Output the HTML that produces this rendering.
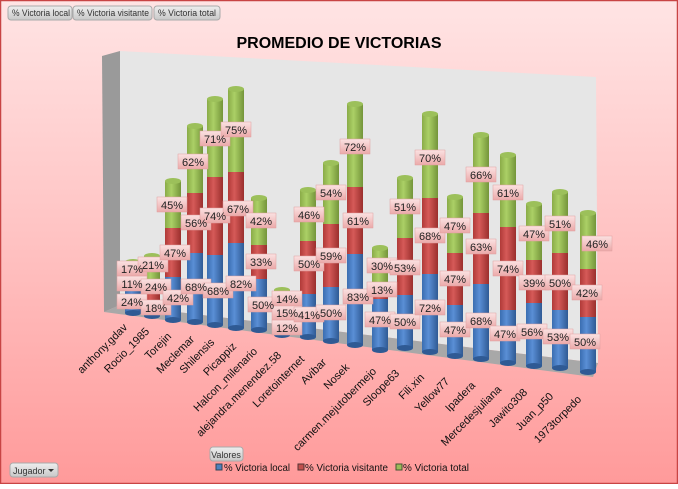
<!DOCTYPE html>
<html><head><meta charset="utf-8"><style>
html,body{margin:0;padding:0}
body{width:678px;height:484px;overflow:hidden;font-family:"Liberation Sans",sans-serif}
</style></head><body>
<svg width="678" height="484" viewBox="0 0 678 484" xmlns="http://www.w3.org/2000/svg" font-family="Liberation Sans, sans-serif">
<defs>
<linearGradient id="bg" x1="0" y1="0" x2="0" y2="1"><stop offset="0" stop-color="#ffe4e4"/><stop offset="0.5" stop-color="#ffc2c2"/><stop offset="1" stop-color="#ff9a9a"/></linearGradient>
<linearGradient id="bl" x1="0" x2="1"><stop offset="0" stop-color="#3a6db0"/><stop offset="0.4" stop-color="#5a8fd6"/><stop offset="1" stop-color="#2f5a94"/></linearGradient>
<linearGradient id="rd" x1="0" x2="1"><stop offset="0" stop-color="#b03a38"/><stop offset="0.4" stop-color="#d65a58"/><stop offset="1" stop-color="#9a2f2d"/></linearGradient>
<linearGradient id="gr" x1="0" x2="1"><stop offset="0" stop-color="#8aab48"/><stop offset="0.4" stop-color="#abd066"/><stop offset="1" stop-color="#74953a"/></linearGradient>
<linearGradient id="lb" x1="0" y1="0" x2="0" y2="1"><stop offset="0" stop-color="#fbe2e2"/><stop offset="1" stop-color="#eba9a9"/></linearGradient>
<linearGradient id="btn" x1="0" y1="0" x2="0" y2="1"><stop offset="0" stop-color="#eeeeee"/><stop offset="1" stop-color="#c8c8c8"/></linearGradient>
</defs>
<rect x="0" y="0" width="678" height="484" fill="url(#bg)"/>
<rect x="0.5" y="0.5" width="677" height="483" fill="none" stroke="#c84444" stroke-width="1.5"/>
<g font-size="9" fill="#333">
<rect x="8" y="6" width="64" height="14" rx="3" fill="url(#btn)" stroke="#aaa"/><text x="12" y="16" textLength="58" lengthAdjust="spacingAndGlyphs">% Victoria local</text>
<rect x="73" y="6" width="79" height="14" rx="3" fill="url(#btn)" stroke="#aaa"/><text x="77" y="16" textLength="72" lengthAdjust="spacingAndGlyphs">% Victoria visitante</text>
<rect x="154" y="6" width="66" height="14" rx="3" fill="url(#btn)" stroke="#aaa"/><text x="158" y="16" textLength="58" lengthAdjust="spacingAndGlyphs">% Victoria total</text>
</g>
<text x="339" y="48" font-size="16" font-weight="bold" text-anchor="middle" fill="#000">PROMEDIO DE VICTORIAS</text>
<polygon points="102,56 120,51 120,305 104,312" fill="#9a9a9a"/>
<polygon points="120,51 596,77 598,363 120,305" fill="#e6e6e6"/>
<polygon points="120,305 598,363 593,377 104,312" fill="#a8a8a8"/>
<g id="bars">
<rect x="125" y="290" width="16" height="23" fill="url(#bl)"/><rect x="125" y="275" width="16" height="15" fill="url(#rd)"/><rect x="125" y="262" width="16" height="13" fill="url(#gr)"/><ellipse cx="133" cy="262" rx="8" ry="3" fill="#9cc05a"/><ellipse cx="133" cy="313" rx="8" ry="3" fill="#2f5a94"/>
<rect x="144" y="300" width="16" height="16" fill="url(#bl)"/><rect x="144" y="285" width="16" height="15" fill="url(#rd)"/><rect x="144" y="256" width="16" height="29" fill="url(#gr)"/><ellipse cx="152" cy="256" rx="8" ry="3" fill="#9cc05a"/><ellipse cx="152" cy="316" rx="8" ry="3" fill="#2f5a94"/>
<rect x="165" y="277" width="16" height="43" fill="url(#bl)"/><rect x="165" y="228" width="16" height="49" fill="url(#rd)"/><rect x="165" y="181" width="16" height="47" fill="url(#gr)"/><ellipse cx="173" cy="181" rx="8" ry="3" fill="#9cc05a"/><ellipse cx="173" cy="320" rx="8" ry="3" fill="#2f5a94"/>
<rect x="187" y="253" width="16" height="69" fill="url(#bl)"/><rect x="187" y="193" width="16" height="60" fill="url(#rd)"/><rect x="187" y="126" width="16" height="67" fill="url(#gr)"/><ellipse cx="195" cy="126" rx="8" ry="3" fill="#9cc05a"/><ellipse cx="195" cy="322" rx="8" ry="3" fill="#2f5a94"/>
<rect x="207" y="255" width="16" height="70" fill="url(#bl)"/><rect x="207" y="177" width="16" height="78" fill="url(#rd)"/><rect x="207" y="99" width="16" height="78" fill="url(#gr)"/><ellipse cx="215" cy="99" rx="8" ry="3" fill="#9cc05a"/><ellipse cx="215" cy="325" rx="8" ry="3" fill="#2f5a94"/>
<rect x="228" y="243" width="16" height="85" fill="url(#bl)"/><rect x="228" y="172" width="16" height="71" fill="url(#rd)"/><rect x="228" y="89" width="16" height="83" fill="url(#gr)"/><ellipse cx="236" cy="89" rx="8" ry="3" fill="#9cc05a"/><ellipse cx="236" cy="328" rx="8" ry="3" fill="#2f5a94"/>
<rect x="251" y="279" width="16" height="51" fill="url(#bl)"/><rect x="251" y="245" width="16" height="34" fill="url(#rd)"/><rect x="251" y="198" width="16" height="47" fill="url(#gr)"/><ellipse cx="259" cy="198" rx="8" ry="3" fill="#9cc05a"/><ellipse cx="259" cy="330" rx="8" ry="3" fill="#2f5a94"/>
<rect x="274" y="318" width="16" height="17" fill="url(#bl)"/><rect x="274" y="306" width="16" height="12" fill="url(#rd)"/><rect x="274" y="290" width="16" height="16" fill="url(#gr)"/><ellipse cx="282" cy="290" rx="8" ry="3" fill="#9cc05a"/><ellipse cx="282" cy="335" rx="8" ry="3" fill="#2f5a94"/>
<rect x="300" y="294" width="16" height="43" fill="url(#bl)"/><rect x="300" y="241" width="16" height="53" fill="url(#rd)"/><rect x="300" y="190" width="16" height="51" fill="url(#gr)"/><ellipse cx="308" cy="190" rx="8" ry="3" fill="#9cc05a"/><ellipse cx="308" cy="337" rx="8" ry="3" fill="#2f5a94"/>
<rect x="323" y="287" width="16" height="54" fill="url(#bl)"/><rect x="323" y="224" width="16" height="63" fill="url(#rd)"/><rect x="323" y="163" width="16" height="61" fill="url(#gr)"/><ellipse cx="331" cy="163" rx="8" ry="3" fill="#9cc05a"/><ellipse cx="331" cy="341" rx="8" ry="3" fill="#2f5a94"/>
<rect x="347" y="254" width="16" height="91" fill="url(#bl)"/><rect x="347" y="187" width="16" height="67" fill="url(#rd)"/><rect x="347" y="104" width="16" height="83" fill="url(#gr)"/><ellipse cx="355" cy="104" rx="8" ry="3" fill="#9cc05a"/><ellipse cx="355" cy="345" rx="8" ry="3" fill="#2f5a94"/>
<rect x="372" y="299" width="16" height="51" fill="url(#bl)"/><rect x="372" y="285" width="16" height="14" fill="url(#rd)"/><rect x="372" y="248" width="16" height="37" fill="url(#gr)"/><ellipse cx="380" cy="248" rx="8" ry="3" fill="#9cc05a"/><ellipse cx="380" cy="350" rx="8" ry="3" fill="#2f5a94"/>
<rect x="397" y="295" width="16" height="53" fill="url(#bl)"/><rect x="397" y="238" width="16" height="57" fill="url(#rd)"/><rect x="397" y="178" width="16" height="60" fill="url(#gr)"/><ellipse cx="405" cy="178" rx="8" ry="3" fill="#9cc05a"/><ellipse cx="405" cy="348" rx="8" ry="3" fill="#2f5a94"/>
<rect x="422" y="274" width="16" height="78" fill="url(#bl)"/><rect x="422" y="198" width="16" height="76" fill="url(#rd)"/><rect x="422" y="114" width="16" height="84" fill="url(#gr)"/><ellipse cx="430" cy="114" rx="8" ry="3" fill="#9cc05a"/><ellipse cx="430" cy="352" rx="8" ry="3" fill="#2f5a94"/>
<rect x="447" y="305" width="16" height="51" fill="url(#bl)"/><rect x="447" y="253" width="16" height="52" fill="url(#rd)"/><rect x="447" y="197" width="16" height="56" fill="url(#gr)"/><ellipse cx="455" cy="197" rx="8" ry="3" fill="#9cc05a"/><ellipse cx="455" cy="356" rx="8" ry="3" fill="#2f5a94"/>
<rect x="473" y="284" width="16" height="75" fill="url(#bl)"/><rect x="473" y="213" width="16" height="71" fill="url(#rd)"/><rect x="473" y="135" width="16" height="78" fill="url(#gr)"/><ellipse cx="481" cy="135" rx="8" ry="3" fill="#9cc05a"/><ellipse cx="481" cy="359" rx="8" ry="3" fill="#2f5a94"/>
<rect x="500" y="310" width="16" height="53" fill="url(#bl)"/><rect x="500" y="227" width="16" height="83" fill="url(#rd)"/><rect x="500" y="155" width="16" height="72" fill="url(#gr)"/><ellipse cx="508" cy="155" rx="8" ry="3" fill="#9cc05a"/><ellipse cx="508" cy="363" rx="8" ry="3" fill="#2f5a94"/>
<rect x="526" y="303" width="16" height="63" fill="url(#bl)"/><rect x="526" y="260" width="16" height="43" fill="url(#rd)"/><rect x="526" y="204" width="16" height="56" fill="url(#gr)"/><ellipse cx="534" cy="204" rx="8" ry="3" fill="#9cc05a"/><ellipse cx="534" cy="366" rx="8" ry="3" fill="#2f5a94"/>
<rect x="552" y="310" width="16" height="58" fill="url(#bl)"/><rect x="552" y="253" width="16" height="57" fill="url(#rd)"/><rect x="552" y="192" width="16" height="61" fill="url(#gr)"/><ellipse cx="560" cy="192" rx="8" ry="3" fill="#9cc05a"/><ellipse cx="560" cy="368" rx="8" ry="3" fill="#2f5a94"/>
<rect x="580" y="317" width="16" height="55" fill="url(#bl)"/><rect x="580" y="269" width="16" height="48" fill="url(#rd)"/><rect x="580" y="213" width="16" height="56" fill="url(#gr)"/><ellipse cx="588" cy="213" rx="8" ry="3" fill="#9cc05a"/><ellipse cx="588" cy="372" rx="8" ry="3" fill="#2f5a94"/>
</g>
<g font-size="11" fill="#222" text-anchor="middle">
<g fill="url(#lb)" stroke="#e0a0a0" stroke-width="0.5">
<rect x="117" y="294" width="30" height="15"/><rect x="117" y="276" width="30" height="15"/><rect x="117" y="261" width="30" height="15"/>
<rect x="141" y="300" width="30" height="15"/><rect x="141" y="279" width="30" height="15"/><rect x="138" y="257" width="30" height="15"/>
<rect x="163" y="290" width="30" height="15"/><rect x="160" y="245" width="30" height="15"/><rect x="157" y="197" width="30" height="15"/>
<rect x="181" y="279" width="30" height="15"/><rect x="181" y="215" width="30" height="15"/><rect x="178" y="154" width="30" height="15"/>
<rect x="203" y="283" width="30" height="15"/><rect x="200" y="208" width="30" height="15"/><rect x="200" y="131" width="30" height="15"/>
<rect x="226" y="276" width="30" height="15"/><rect x="223" y="201" width="30" height="15"/><rect x="221" y="122" width="30" height="15"/>
<rect x="248" y="297" width="30" height="15"/><rect x="246" y="254" width="30" height="15"/><rect x="246" y="213" width="30" height="15"/>
<rect x="272" y="320" width="30" height="15"/><rect x="272" y="305" width="30" height="15"/><rect x="272" y="291" width="30" height="15"/>
<rect x="294" y="307" width="30" height="15"/><rect x="294" y="256" width="30" height="15"/><rect x="294" y="207" width="30" height="15"/>
<rect x="316" y="305" width="30" height="15"/><rect x="316" y="248" width="30" height="15"/><rect x="316" y="185" width="30" height="15"/>
<rect x="343" y="289" width="30" height="15"/><rect x="343" y="213" width="30" height="15"/><rect x="340" y="139" width="30" height="15"/>
<rect x="365" y="312" width="30" height="15"/><rect x="367" y="282" width="30" height="15"/><rect x="367" y="258" width="30" height="15"/>
<rect x="390" y="314" width="30" height="15"/><rect x="390" y="260" width="30" height="15"/><rect x="390" y="199" width="30" height="15"/>
<rect x="415" y="300" width="30" height="15"/><rect x="415" y="228" width="30" height="15"/><rect x="415" y="150" width="30" height="15"/>
<rect x="440" y="322" width="30" height="15"/><rect x="440" y="271" width="30" height="15"/><rect x="440" y="218" width="30" height="15"/>
<rect x="466" y="313" width="30" height="15"/><rect x="466" y="239" width="30" height="15"/><rect x="466" y="167" width="30" height="15"/>
<rect x="490" y="326" width="30" height="15"/><rect x="493" y="261" width="30" height="15"/><rect x="493" y="185" width="30" height="15"/>
<rect x="517" y="324" width="30" height="15"/><rect x="519" y="275" width="30" height="15"/><rect x="519" y="226" width="30" height="15"/>
<rect x="543" y="329" width="30" height="15"/><rect x="545" y="275" width="30" height="15"/><rect x="545" y="216" width="30" height="15"/>
<rect x="570" y="334" width="30" height="15"/><rect x="572" y="285" width="30" height="15"/><rect x="582" y="236" width="30" height="15"/>
</g>
<text x="132" y="306">24%</text><text x="132" y="288">11%</text><text x="132" y="273">17%</text>
<text x="156" y="312">18%</text><text x="156" y="291">24%</text><text x="153" y="269">21%</text>
<text x="178" y="302">42%</text><text x="175" y="257">47%</text><text x="172" y="209">45%</text>
<text x="196" y="291">68%</text><text x="196" y="227">56%</text><text x="193" y="166">62%</text>
<text x="218" y="295">68%</text><text x="215" y="220">74%</text><text x="215" y="143">71%</text>
<text x="241" y="288">82%</text><text x="238" y="213">67%</text><text x="236" y="134">75%</text>
<text x="263" y="309">50%</text><text x="261" y="266">33%</text><text x="261" y="225">42%</text>
<text x="287" y="332">12%</text><text x="287" y="317">15%</text><text x="287" y="303">14%</text>
<text x="309" y="319">41%</text><text x="309" y="268">50%</text><text x="309" y="219">46%</text>
<text x="331" y="317">50%</text><text x="331" y="260">59%</text><text x="331" y="197">54%</text>
<text x="358" y="301">83%</text><text x="358" y="225">61%</text><text x="355" y="151">72%</text>
<text x="380" y="324">47%</text><text x="382" y="294">13%</text><text x="382" y="270">30%</text>
<text x="405" y="326">50%</text><text x="405" y="272">53%</text><text x="405" y="211">51%</text>
<text x="430" y="312">72%</text><text x="430" y="240">68%</text><text x="430" y="162">70%</text>
<text x="455" y="334">47%</text><text x="455" y="283">47%</text><text x="455" y="230">47%</text>
<text x="481" y="325">68%</text><text x="481" y="251">63%</text><text x="481" y="179">66%</text>
<text x="505" y="338">47%</text><text x="508" y="273">74%</text><text x="508" y="197">61%</text>
<text x="532" y="336">56%</text><text x="534" y="287">39%</text><text x="534" y="238">47%</text>
<text x="558" y="341">53%</text><text x="560" y="287">50%</text><text x="560" y="228">51%</text>
<text x="585" y="346">50%</text><text x="587" y="297">42%</text><text x="597" y="248">46%</text>
</g>
<g font-size="11" fill="#111" text-anchor="end">
<text transform="translate(128,328) rotate(-45)">anthony.gdav</text>
<text transform="translate(150,332) rotate(-45)">Rocio_1985</text>
<text transform="translate(172,337) rotate(-45)">Torejin</text>
<text transform="translate(195,340) rotate(-45)">Meclemar</text>
<text transform="translate(215,343) rotate(-45)">Shilensis</text>
<text transform="translate(237,347) rotate(-45)">Picappiz</text>
<text transform="translate(258,352) rotate(-45)">Halcon_milenario</text>
<text transform="translate(282,356) rotate(-45)">alejandra.menendez.58</text>
<text transform="translate(305,360) rotate(-45)">Loretointernet</text>
<text transform="translate(327,363) rotate(-45)">Avibar</text>
<text transform="translate(350,368) rotate(-45)">Nosek</text>
<text transform="translate(377,372) rotate(-45)">carmen.mejutobermejo</text>
<text transform="translate(400,374) rotate(-45)">Sloope63</text>
<text transform="translate(425,378) rotate(-45)">Fili.xin</text>
<text transform="translate(450,382) rotate(-45)">Yellow77</text>
<text transform="translate(476,386) rotate(-45)">Ipadera</text>
<text transform="translate(502,390) rotate(-45)">Mercedesjuliana</text>
<text transform="translate(528,393) rotate(-45)">Jawito308</text>
<text transform="translate(554,397) rotate(-45)">Juan_p50</text>
<text transform="translate(582,400) rotate(-45)">1973torpedo</text>
</g>
<rect x="210" y="447" width="33" height="14" rx="3" fill="url(#btn)" stroke="#aaa"/>
<text x="226" y="458" font-size="9" fill="#333" text-anchor="middle">Valores</text>
<rect x="10" y="463" width="48" height="14" rx="3" fill="url(#btn)" stroke="#aaa"/>
<text x="13" y="474" font-size="9" fill="#333">Jugador</text>
<polygon points="48,469 54,469 51,472" fill="#333"/>
<g font-size="10" fill="#111">
<rect x="216" y="464" width="6" height="6" fill="#4f81bd" stroke="#345"/><text x="224" y="471" textLength="66" lengthAdjust="spacingAndGlyphs">% Victoria local</text>
<rect x="298" y="464" width="6" height="6" fill="#c0504d" stroke="#533"/><text x="305" y="471" textLength="83" lengthAdjust="spacingAndGlyphs">% Victoria visitante</text>
<rect x="396" y="464" width="6" height="6" fill="#9bbb59" stroke="#453"/><text x="403" y="471" textLength="66" lengthAdjust="spacingAndGlyphs">% Victoria total</text>
</g>
</svg>
</body></html>
